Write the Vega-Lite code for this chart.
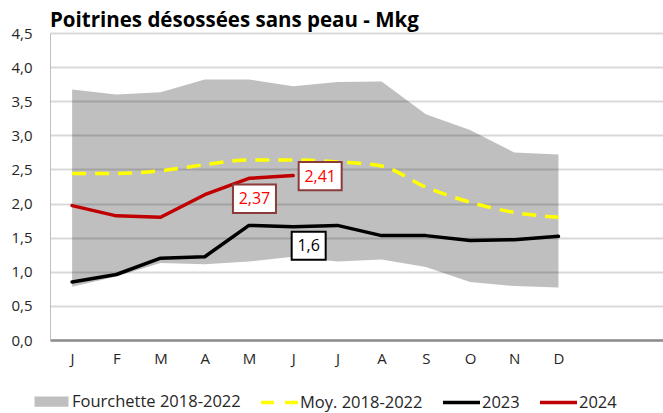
{
  "$schema": "https://vega.github.io/schema/vega-lite/v6.json",
  "width": 619,
  "height": 307,
  "autosize": {"type": "none"},
  "padding": {"left": 50, "top": 33, "right": 0, "bottom": 73},
  "background": "white",
  "config": {
    "view": {"stroke": null},
    "font": "Open Sans",
    "axisY": {
      "title": null, "values": [0,0.5,1,1.5,2,2.5,3,3.5,4,4.5],
      "labelExpr": "replace(format(datum.value, '.1f'), '.', ',')",
      "grid": true, "gridColor": "#d9d9d9", "gridWidth": 2, "ticks": false,
      "domainColor": "#bfbfbf", "domainWidth": 1,
      "labelFont": "Open Sans", "labelFontSize": 15, "labelColor": "#262626", "labelPadding": 18
    }
  },
  "title": {"text": "Poitrines désossées sans peau - Mkg", "anchor": "start", "frame": "group", "font": "Open Sans", "fontSize": 20.5, "fontWeight": "bold", "color": "#000000", "offset": 2, "dy": 7},
  "datasets": {
    "range": [
      {"m": 1, "low": 0.78, "high": 3.67, "series": "Fourchette 2018-2022"},
      {"m": 2, "low": 0.93, "high": 3.60, "series": "Fourchette 2018-2022"},
      {"m": 3, "low": 1.13, "high": 3.63, "series": "Fourchette 2018-2022"},
      {"m": 4, "low": 1.11, "high": 3.82, "series": "Fourchette 2018-2022"},
      {"m": 5, "low": 1.15, "high": 3.82, "series": "Fourchette 2018-2022"},
      {"m": 6, "low": 1.22, "high": 3.72, "series": "Fourchette 2018-2022"},
      {"m": 7, "low": 1.15, "high": 3.78, "series": "Fourchette 2018-2022"},
      {"m": 8, "low": 1.18, "high": 3.79, "series": "Fourchette 2018-2022"},
      {"m": 9, "low": 1.07, "high": 3.31, "series": "Fourchette 2018-2022"},
      {"m": 10, "low": 0.85, "high": 3.08, "series": "Fourchette 2018-2022"},
      {"m": 11, "low": 0.79, "high": 2.75, "series": "Fourchette 2018-2022"},
      {"m": 12, "low": 0.77, "high": 2.72, "series": "Fourchette 2018-2022"}
    ],
    "lines": [
      {"m": 1, "series": "Moy. 2018-2022", "value": 2.44},
      {"m": 2, "series": "Moy. 2018-2022", "value": 2.44},
      {"m": 3, "series": "Moy. 2018-2022", "value": 2.48},
      {"m": 4, "series": "Moy. 2018-2022", "value": 2.57},
      {"m": 5, "series": "Moy. 2018-2022", "value": 2.64},
      {"m": 6, "series": "Moy. 2018-2022", "value": 2.64},
      {"m": 7, "series": "Moy. 2018-2022", "value": 2.61},
      {"m": 8, "series": "Moy. 2018-2022", "value": 2.55},
      {"m": 9, "series": "Moy. 2018-2022", "value": 2.24},
      {"m": 10, "series": "Moy. 2018-2022", "value": 2.02},
      {"m": 11, "series": "Moy. 2018-2022", "value": 1.87},
      {"m": 12, "series": "Moy. 2018-2022", "value": 1.80},
      {"m": 1, "series": "2023", "value": 0.85},
      {"m": 2, "series": "2023", "value": 0.96},
      {"m": 3, "series": "2023", "value": 1.20},
      {"m": 4, "series": "2023", "value": 1.22},
      {"m": 5, "series": "2023", "value": 1.68},
      {"m": 6, "series": "2023", "value": 1.66},
      {"m": 7, "series": "2023", "value": 1.68},
      {"m": 8, "series": "2023", "value": 1.53},
      {"m": 9, "series": "2023", "value": 1.53},
      {"m": 10, "series": "2023", "value": 1.46},
      {"m": 11, "series": "2023", "value": 1.47},
      {"m": 12, "series": "2023", "value": 1.52},
      {"m": 1, "series": "2024", "value": 1.97},
      {"m": 2, "series": "2024", "value": 1.82},
      {"m": 3, "series": "2024", "value": 1.80},
      {"m": 4, "series": "2024", "value": 2.13},
      {"m": 5, "series": "2024", "value": 2.37},
      {"m": 6, "series": "2024", "value": 2.41}
    ],
    "labels": [
      {"m": 5, "value": 2.37, "label": "2,37"},
      {"m": 6, "value": 2.41, "label": "2,41"},
      {"m": 6, "value": 1.66, "label": "1,6"}
    ]
  },
  "encoding": {
    "x": {
      "field": "m", "type": "quantitative",
      "scale": {"domain": [0.5, 14.5], "nice": false, "zero": false},
      "axis": {
        "title": null, "values": [1,2,3,4,5,6,7,8,9,10,11,12],
        "labelExpr": "['J','F','M','A','M','J','J','A','S','O','N','D'][datum.value - 1]",
        "grid": false, "ticks": false, "domainColor": "#8c8c8c", "domainWidth": 2.5,
        "labelFont": "Open Sans", "labelFontSize": 15, "labelColor": "#262626", "labelPadding": 11,
        "labelFlush": false, "labelOverlap": false
      }
    },
    "y": {
      "field": "value", "type": "quantitative",
      "scale": {"domain": [0, 4.5], "nice": false, "zero": true},
      "axis": {"title": null}
    },
    "color": {
      "field": "series", "type": "nominal",
      "scale": {"domain": ["Fourchette 2018-2022", "Moy. 2018-2022", "2023", "2024"], "range": ["#bfbfbf", "#ffff00", "#000000", "#c00000"]},
      "legend": {
        "title": null, "orient": "none", "direction": "horizontal", "legendX": -19, "legendY": 348,
        "padding": 0, "labelFont": "Open Sans", "labelFontSize": 16.5, "labelColor": "#262626", "labelLimit": 300,
        "symbolSize": 1369, "symbolStrokeWidth": 3.5, "labelOffset": 0, "columnPadding": 13,
        "encode": {
          "symbols": {
            "update": {
              "shape": {"signal": "datum.value === 'Fourchette 2018-2022' ? 'M-0.824,-0.176H0.824V0.176H-0.824Z' : 'stroke'"},
              "fill": {"signal": "datum.value === 'Fourchette 2018-2022' ? '#bfbfbf' : 'transparent'"},
              "stroke": {"signal": "datum.value === 'Fourchette 2018-2022' ? '#bfbfbf' : datum.value === '2023' ? '#000000' : datum.value === '2024' ? '#c00000' : '#ffff00'"},
              "strokeDash": {"signal": "datum.value === 'Moy. 2018-2022' ? [13, 11] : []"},
              "strokeWidth": {"value": 3.5},
              "opacity": {"value": 1}
            }
          }
        }
      }
    }
  },
  "layer": [
    {
      "data": {"name": "range"},
      "mark": {"type": "area", "opacity": 1, "fillOpacity": 0.25},
      "encoding": {
        "y": {"field": "low", "type": "quantitative", "scale": {"domain": [0, 4.5], "nice": false, "zero": true}, "axis": {"title": null}},
        "y2": {"field": "high"},
        "fill": {"value": "#000000"}
      }
    },
    {
      "data": {"name": "lines"},
      "transform": [{"filter": "datum.series === 'Moy. 2018-2022'"}],
      "mark": {"type": "line", "strokeWidth": 3.5, "strokeDash": [14, 9], "interpolate": "monotone"}
    },
    {
      "data": {"name": "lines"},
      "transform": [{"filter": "datum.series !== 'Moy. 2018-2022'"}],
      "mark": {"type": "line", "strokeWidth": 3.5, "strokeCap": "round", "strokeJoin": "round"}
    },
    {
      "data": {"name": "labels"},
      "transform": [{"filter": "datum.label === '2,37'"}],
      "layer": [
        {
          "mark": {"type": "point", "shape": "M-1,-0.66H1V0.66H-1Z", "size": 1849, "filled": true, "strokeWidth": 2, "opacity": 1, "xOffset": 5.5, "yOffset": 20.5},
          "encoding": {"fill": {"value": "#ffffff"}, "stroke": {"value": "#8c3b3b"}, "color": {"value": "#ffffff"}}
        },
        {
          "mark": {"type": "text", "font": "Open Sans", "fontSize": 16, "align": "center", "baseline": "middle", "xOffset": 5.5, "yOffset": 21},
          "encoding": {"text": {"field": "label"}, "color": {"value": "#ff0000"}}
        }
      ]
    },
    {
      "data": {"name": "labels"},
      "transform": [{"filter": "datum.label === '2,41'"}],
      "layer": [
        {
          "mark": {"type": "point", "shape": "M-1,-0.66H1V0.66H-1Z", "size": 1849, "filled": true, "strokeWidth": 2, "opacity": 1, "xOffset": 27, "yOffset": 0.5},
          "encoding": {"fill": {"value": "#ffffff"}, "stroke": {"value": "#8c3b3b"}, "color": {"value": "#ffffff"}}
        },
        {
          "mark": {"type": "text", "font": "Open Sans", "fontSize": 16, "align": "center", "baseline": "middle", "xOffset": 27, "yOffset": 1},
          "encoding": {"text": {"field": "label"}, "color": {"value": "#ff0000"}}
        }
      ]
    },
    {
      "data": {"name": "labels"},
      "transform": [{"filter": "datum.label === '1,6'"}],
      "layer": [
        {
          "mark": {"type": "point", "shape": "M-1,-0.82H1V0.82H-1Z", "size": 1156, "filled": true, "strokeWidth": 2, "opacity": 1, "xOffset": 15.5, "yOffset": 19},
          "encoding": {"fill": {"value": "#ffffff"}, "stroke": {"value": "#000000"}, "color": {"value": "#ffffff"}}
        },
        {
          "mark": {"type": "text", "font": "Open Sans", "fontSize": 16, "align": "center", "baseline": "middle", "xOffset": 15.5, "yOffset": 19.5},
          "encoding": {"text": {"field": "label"}, "color": {"value": "#000000"}}
        }
      ]
    }
  ]
}
